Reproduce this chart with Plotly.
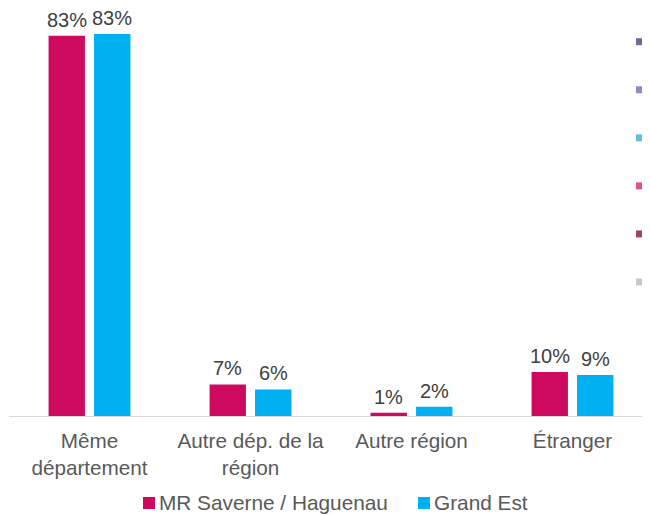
import plotly.graph_objects as go

categories = ["Même<br>département", "Autre dép. de la<br>région", "Autre région", "Étranger"]
series_names = ["MR Saverne / Haguenau", "Grand Est"]
mr_values = [83.0, 6.9, 0.7, 9.6]
ge_values = [83.4, 5.8, 2.0, 8.95]
series_colors = ["#CE0A5F", "#00B0F0"]

# cut-off legend of a neighbouring chart visible on the right edge
side_colors = ["#6E6A96", "#9089CC", "#63BDE6", "#E0508F", "#9B4468", "#C8C8C8"]
side_texts = ["A", "A<br>(", "(<br>i", "I<br>i", "I", "("]

OFF = 8  # page body margin
W, H = 650 - OFF, 515 - OFF
ml, mr_, mt = 9 - OFF, 0, 0
base_y = 416 - OFF
mb = H - base_y
plot_h = H - mt - mb
plot_w = W - ml - mr_
cat_px = 161.0
px_per_unit = 4.58
bargap = 0.435
slot = cat_px * (1 - bargap) / 2

fig = go.Figure()
annotations = []
for k, (name, vals, col) in enumerate(zip(series_names, [mr_values, ge_values], series_colors)):
    fig.add_trace(go.Bar(
        x=categories, y=vals, name=name,
        marker=dict(color=col, line=dict(width=0)),
        showlegend=False,
    ))
    for c, v in zip(categories, vals):
        annotations.append(dict(
            x=c, y=v, xref="x", yref="y", text=f"{round(v):.0f}%",
            showarrow=False, xanchor="center", yanchor="bottom",
            xshift=(k - 0.5) * slot, yshift=3,
            font=dict(size=20, color="#404040", family="Liberation Sans")))

def px_x(x):
    return (x - OFF - ml) / plot_w

def px_y(y):
    return (base_y - (y - OFF)) / plot_h

shapes = []
for i, (c, t) in enumerate(zip(side_colors, side_texts)):
    yc = 41.7 + i * 48.06
    shapes.append(dict(type="rect", xref="paper", yref="paper",
                       x0=px_x(636), x1=px_x(643),
                       y0=px_y(yc + 3.5), y1=px_y(yc - 3.5),
                       fillcolor=c, line=dict(width=0)))
    annotations.append(dict(xref="paper", yref="paper", x=px_x(647),
                            y=px_y(yc - 9), xanchor="left", yanchor="top",
                            text=t, showarrow=False, align="left",
                            font=dict(size=15, color="#595959", family="Liberation Sans")))

# legend drawn manually
legend_sq_x = [143, 418]
legend_cy = 503
for name, col, sx in zip(series_names, series_colors, legend_sq_x):
    shapes.append(dict(type="rect", xref="paper", yref="paper",
                       x0=px_x(sx), x1=px_x(sx + 12),
                       y0=px_y(legend_cy + 6), y1=px_y(legend_cy - 6),
                       fillcolor=col, line=dict(width=0)))
    annotations.append(dict(xref="paper", yref="paper", x=px_x(sx + 14),
                            y=px_y(legend_cy), xanchor="left", yanchor="middle",
                            text=name, showarrow=False,
                            font=dict(size=20.8, color="#595959", family="Liberation Sans")))

fig.update_layout(
    width=W, height=H,
    margin=dict(l=ml, r=mr_, t=mt, b=mb, pad=0),
    paper_bgcolor="white", plot_bgcolor="white",
    barmode="group", bargap=bargap, bargroupgap=0.2,
    showlegend=False,
    font=dict(family="Liberation Sans", size=20, color="#595959"),
    xaxis=dict(range=[-0.5, -0.5 + plot_w / cat_px], showline=True, linecolor="#D9D9D9",
               linewidth=1, ticks="", showgrid=False, zeroline=False,
               ticklabelstandoff=6,
               tickfont=dict(size=20.7, color="#595959")),
    yaxis=dict(range=[0, plot_h / px_per_unit], visible=False, showgrid=False, zeroline=False),
    shapes=shapes, annotations=annotations,
)

fig.write_html("out.html")
